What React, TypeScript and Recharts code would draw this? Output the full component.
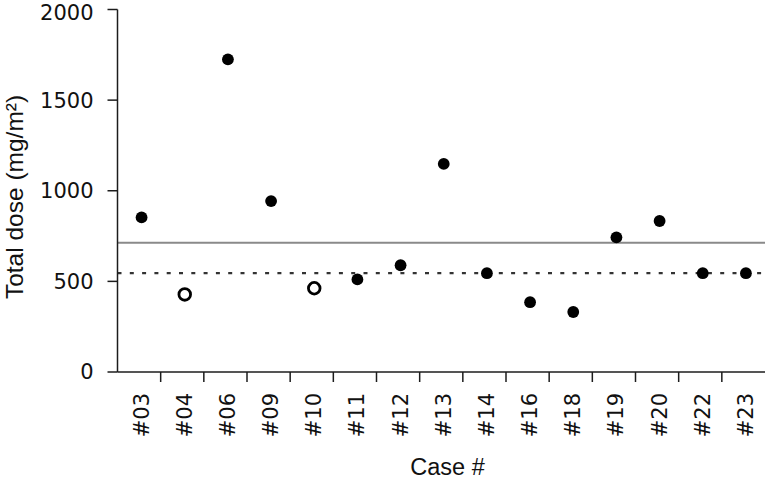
import { ComposedChart, Scatter, XAxis, YAxis, ReferenceLine, Label } from 'recharts';

const cases = ['#03', '#04', '#06', '#09', '#10', '#11', '#12', '#13', '#14', '#16', '#18', '#19', '#20', '#22', '#23'];
const doses = [853, 428, 1725, 943, 462, 511, 589, 1148, 545, 385, 331, 743, 833, 545, 545];
const openCases = ['#04', '#10'];
const yTicks = [0, 500, 1000, 1500, 2000];
const solidLineValue = 713;
const dashedLineValue = 545;

const WIDTH = 767;
const HEIGHT = 479;
const Y_AXIS_WIDTH = 117.5;
const RIGHT_MARGIN = 2;
const X_AXIS_HEIGHT = 107;
const bandWidth = (WIDTH - Y_AXIS_WIDTH - RIGHT_MARGIN) / cases.length;
// points and labels sit a little right of band centre in the original
const SHIFT = 2.5;

const AXIS_COLOR = '#1c1c1c';
const TICK_FONT = '"DejaVu Sans", sans-serif';
const TITLE_FONT = '"Liberation Sans", Arial, sans-serif';

const data = cases.map((c, i) => ({
  caseId: c,
  dose: doses[i],
  open: openCases.includes(c),
}));

function CaseTick(props: any) {
  const { x, y, payload, index } = props;
  return (
    <g>
      {index > 0 && (
        <line
          x1={x - bandWidth / 2}
          x2={x - bandWidth / 2}
          y1={y}
          y2={y + 10}
          stroke={AXIS_COLOR}
          strokeWidth={1.5}
        />
      )}
      <text
        transform={`translate(${x + SHIFT},${y + 21}) rotate(-90)`}
        textAnchor="end"
        dominantBaseline="central"
        fontFamily={TICK_FONT}
        fontSize={21}
        fill="#111"
      >
        {payload.value}
      </text>
    </g>
  );
}

function DoseDot(props: any) {
  const { cx, cy, payload } = props;
  if (cx == null || cy == null) return <g />;
  if (payload.open) {
    return <circle cx={cx + SHIFT} cy={cy} r={5.8} fill="#fff" stroke="#000" strokeWidth={2.8} />;
  }
  return <circle cx={cx + SHIFT} cy={cy} r={5.9} fill="#000" />;
}

export default function App() {
  return (
    <div style={{ position: 'absolute', left: 0, top: 0, background: '#fff' }}>
      <ComposedChart
        width={WIDTH}
        height={HEIGHT}
        data={data}
        margin={{ top: 9.5, right: RIGHT_MARGIN, bottom: 0, left: 0 }}
      >
        <XAxis
          dataKey="caseId"
          type="category"
          scale="band"
          interval={0}
          height={X_AXIS_HEIGHT}
          axisLine={{ stroke: AXIS_COLOR, strokeWidth: 1.5 }}
          tickLine={false}
          tickSize={0}
          tickMargin={0}
          tick={<CaseTick />}
        >
          <Label
            content={() => (
              <text
                x={447.5}
                y={467}
                textAnchor="middle"
                dominantBaseline="central"
                fontFamily={TITLE_FONT}
                fontSize={23.5}
                fill="#111"
              >
                Case #
              </text>
            )}
          />
        </XAxis>
        <YAxis
          type="number"
          domain={[0, 2000]}
          ticks={yTicks}
          width={Y_AXIS_WIDTH}
          axisLine={{ stroke: AXIS_COLOR, strokeWidth: 1.5 }}
          tickLine={{ stroke: AXIS_COLOR, strokeWidth: 1.5 }}
          tickSize={10}
          tickMargin={14}
          tick={{ fontFamily: TICK_FONT, fontSize: 21, fill: '#111' }}
        >
          <Label
            content={() => (
              <text
                transform="translate(14,197) rotate(-90)"
                textAnchor="middle"
                dominantBaseline="central"
                fontFamily={TITLE_FONT}
                fontSize={24.5}
                fill="#111"
              >
                Total dose (mg/m²)
              </text>
            )}
          />
        </YAxis>
        <ReferenceLine y={solidLineValue} stroke="#8a8a8a" strokeWidth={2} ifOverflow="extendDomain" />
        <ReferenceLine
          y={dashedLineValue}
          stroke="#333"
          strokeWidth={2.2}
          strokeDasharray="4 8.3"
          ifOverflow="extendDomain"
        />
        <Scatter dataKey="dose" shape={<DoseDot />} isAnimationActive={false} />
      </ComposedChart>
    </div>
  );
}
